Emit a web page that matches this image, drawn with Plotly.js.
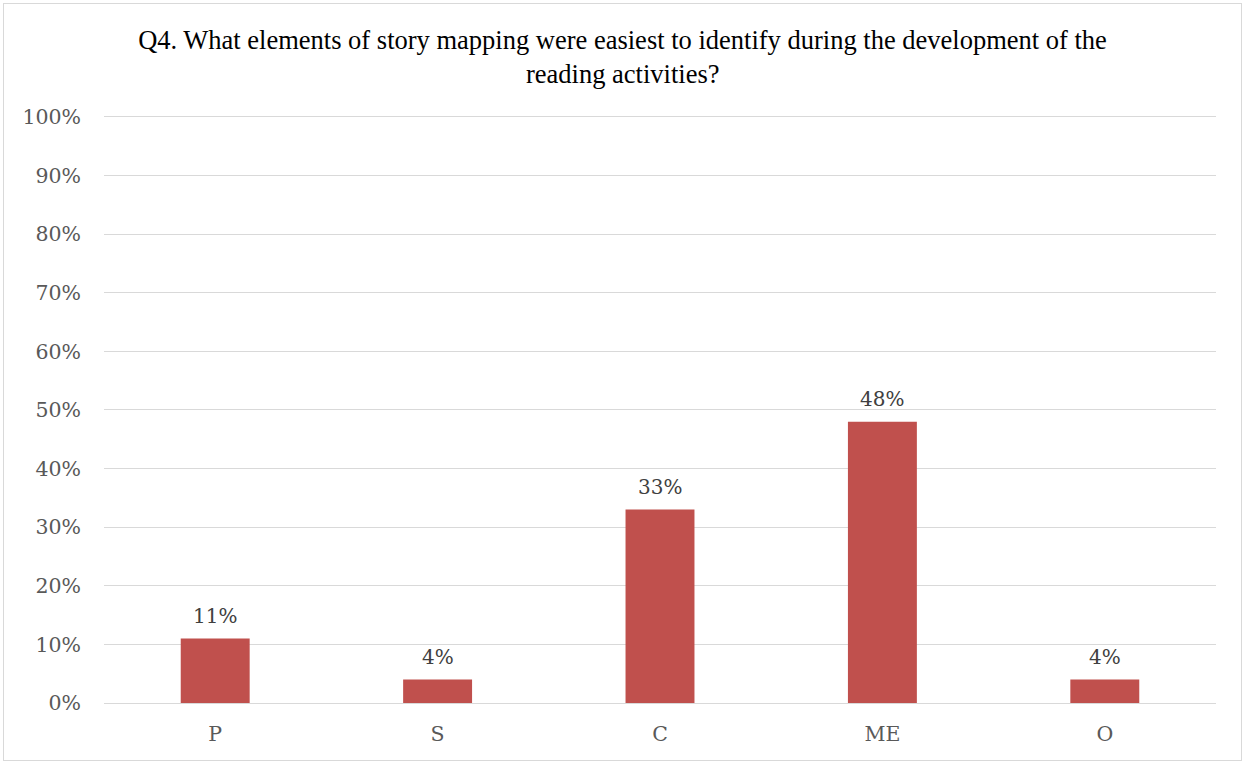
<!DOCTYPE html>
<html>
<head>
<meta charset="utf-8">
<script src="https://cdn.plot.ly/plotly-3.0.1.min.js"></script>
<style>
  html, body { margin: 0; padding: 0; background: #ffffff; }
  #wrap { position: relative; width: 1245px; height: 763px; }
  #chart { position: absolute; left: 0; top: 0; width: 1245px; height: 763px; }
  #frame { position: absolute; left: 3px; top: 3px; width: 1237px; height: 756px;
           border: 1px solid #d9d9d9; pointer-events: none; }
</style>
</head>
<body>
<div id="wrap">
  <div id="chart"></div>
  <div id="frame"></div>
</div>
<script>
// Story-mapping elements and the share of respondents choosing each
const categories = ["P", "S", "C", "ME", "O"];
const shares = [11, 4, 33, 48, 4];
const yTickValues = [0, 10, 20, 30, 40, 50, 60, 70, 80, 90, 100];
const yTickLabels = ["0%", "10%", "20%", "30%", "40%", "50%", "60%", "70%", "80%", "90%", "100%"];
const titleLines = [
  "Q4. What elements of story mapping were easiest to identify during the development of the",
  "reading activities?"
];

const FIG_W = 1245, FIG_H = 763;
const MARGIN = { l: 104, r: 29, t: 114, b: 60 };

const titleFont = { family: "Liberation Serif", size: 26.5, color: "#000000" };
const labelFont = { family: "DejaVu Serif", size: 20, color: "#404040" };
const tickFont = { family: "DejaVu Serif", size: 20.5, color: "#595959" };

const trace = {
  type: "bar",
  x: categories,
  y: shares,
  marker: { color: "#c0504d", line: { width: 0 } },
  hoverinfo: "skip"
};

const valueLabels = categories.map((c, i) => ({
  x: c,
  y: shares[i],
  xref: "x",
  yref: "y",
  text: shares[i] + "%",
  showarrow: false,
  yanchor: "bottom",
  yshift: 9,
  font: labelFont
}));

// second line of the title, centred on the figure like the first line,
// set a little tighter than Plotly's multi-line spacing
const plotWidth = FIG_W - MARGIN.l - MARGIN.r;
const titleSecondLine = {
  xref: "paper",
  yref: "paper",
  x: (FIG_W / 2 - MARGIN.l) / plotWidth,
  y: 1,
  xanchor: "center",
  yanchor: "middle",
  yshift: 40,
  text: titleLines[1],
  showarrow: false,
  font: titleFont
};

const layout = {
  width: FIG_W,
  height: FIG_H,
  margin: MARGIN,
  paper_bgcolor: "#ffffff",
  plot_bgcolor: "#ffffff",
  bargap: 0.69,
  showlegend: false,
  title: {
    text: titleLines[0],
    font: titleFont,
    x: 0.5,
    xanchor: "center",
    yref: "container",
    y: 1 - 40 / FIG_H,
    yanchor: "middle"
  },
  xaxis: {
    type: "category",
    showgrid: false,
    showline: false,
    zeroline: false,
    ticks: "",
    tickfont: tickFont,
    ticklabelstandoff: 16
  },
  yaxis: {
    range: [0, 100.5],
    tickvals: yTickValues,
    ticktext: yTickLabels,
    showgrid: true,
    gridcolor: "#d9d9d9",
    gridwidth: 1,
    zeroline: true,
    zerolinecolor: "#d9d9d9",
    zerolinewidth: 1,
    showline: false,
    ticks: "",
    tickfont: tickFont,
    ticklabelstandoff: 22
  },
  annotations: [titleSecondLine].concat(valueLabels)
};

Plotly.newPlot("chart", [trace], layout, { displayModeBar: false, staticPlot: true });
</script>
</body>
</html>
